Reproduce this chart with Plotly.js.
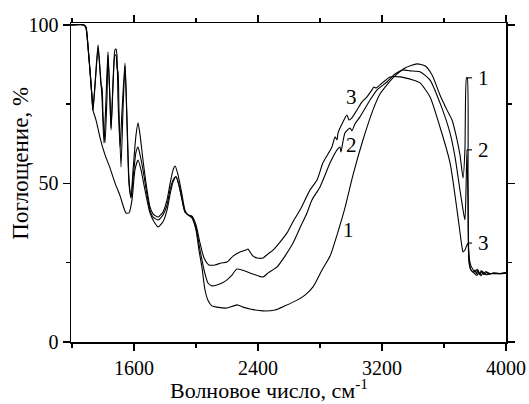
<!DOCTYPE html>
<html>
<head>
<meta charset="utf-8">
<script src="https://cdn.plot.ly/plotly-3.0.1.min.js"></script>
<style>html,body{margin:0;padding:0;background:#fff;}#chart{width:529px;height:404px;}</style>
</head>
<body>
<div id="chart"></div>
<script>
// Wavenumber (cm^-1) and absorption (%) for spectra 1, 2, 3
const wn1 = [1194,1277,1290,1303,1316,1329,1335,1355,1381,1413,1445,1477,1510,1548,1568,1587,1606,1626,1645,1671,1703,1729,1755,1787,1813,1832,1852,1871,1890,1910,1929,1948,1974,2000,2019,2039,2058,2077,2103,2135,2200,2265,2303,2348,2432,2510,2574,2652,2703,2755,2813,2865,2910,2961,3013,3077,3142,3187,3232,3284,3348,3426,3477,3523,3574,3619,3652,3677,3703,3723,3735,3745,3750,3755,3761,3774,3800,3812,3825,3838,3850,3870,3900,3940,4000];
const ab1 = [100,100,99.1,93.1,85.8,77.3,73.2,70.0,64.4,59.0,54.9,50.2,46.1,40.7,40.7,44.8,54.3,57.4,54.3,47.9,40.7,37.9,36.3,37.9,41.6,46.4,50.5,52.1,49.5,44.8,41.0,40.1,39.1,35.3,29.0,23.3,16.4,13.2,11.4,11.0,10.7,11.7,11.0,10.4,9.8,10.1,11.4,13.2,14.8,17.4,22.7,27.1,33.8,42.3,52.7,63.7,73.2,78.2,81.1,83.9,86.4,87.7,87.1,84.2,77.9,73.2,70.0,65.3,59.0,51.7,60.6,83.3,83.3,51.1,25.2,22.7,21.5,21.0,22.0,20.9,21.8,21.2,21.6,21.5,21.8];

const wn2 = [1194,1277,1290,1303,1316,1329,1335,1348,1368,1381,1387,1394,1400,1413,1426,1432,1445,1452,1465,1477,1484,1490,1497,1503,1516,1529,1542,1555,1568,1581,1594,1613,1626,1639,1658,1684,1703,1723,1755,1787,1813,1832,1852,1871,1890,1910,1929,1948,1974,2000,2026,2052,2077,2103,2135,2168,2200,2232,2265,2432,2465,2523,2574,2626,2671,2716,2748,2800,2865,2910,2929,2935,2961,2994,3006,3026,3058,3123,3168,3232,3284,3335,3381,3445,3510,3574,3639,3671,3703,3723,3735,3742,3748,3755,3761,3774,3800,3815,3828,3840,3855,3870,3890,3920,3960,4000];
const ab2 = [100,100,99.1,93.1,85.2,77.0,73.2,80.4,92.7,85.2,81.1,80.1,71.6,62.8,77.9,90.5,76.3,66.9,81.1,90.5,90.5,86.4,85.2,73.2,55.2,73.2,87.1,68.5,49.5,45.4,51.7,59.9,61.5,59.0,54.3,46.4,41.6,39.4,38.5,40.1,43.2,47.9,51.1,52.1,49.5,44.8,41.0,40.1,39.4,36.0,29.0,22.7,18.6,17.7,18.0,18.6,19.6,21.1,23.0,20.5,21.8,23.7,27.1,31.2,36.0,40.7,44.8,48.9,56.5,60.6,61.5,59.9,65.9,67.5,66.6,68.8,71.0,76.3,79.5,82.0,84.5,85.8,85.5,85.2,82.6,75.4,65.9,58.4,47.9,41.6,38.5,47.9,60.6,44.8,27.4,24.0,22.1,22.9,21.2,22.5,21.3,22.2,21.4,21.8,21.5,21.8];

const wn3 = [1194,1277,1290,1303,1316,1329,1335,1348,1368,1381,1387,1394,1406,1419,1432,1445,1452,1465,1477,1484,1490,1497,1510,1523,1542,1555,1568,1581,1594,1613,1626,1639,1658,1684,1703,1723,1755,1787,1813,1832,1852,1865,1884,1910,1929,1948,1974,2000,2026,2052,2084,2123,2161,2200,2239,2284,2323,2335,2348,2368,2394,2432,2465,2497,2542,2587,2632,2671,2735,2781,2819,2877,2897,2910,2916,2948,2974,2987,3006,3039,3071,3103,3135,3148,3161,3187,3252,3316,3348,3400,3445,3510,3574,3639,3684,3716,3723,3735,3748,3755,3761,3768,3774,3790,3800,3810,3820,3832,3845,3865,3880,3897,3929,3961,4000];
const ab3 = [100,100,99.4,93.7,85.8,77.3,73.2,81.1,93.7,85.8,82.0,76.3,62.8,76.3,91.5,76.3,67.5,82.6,92.1,92.4,90.5,76.3,61.5,73.2,88.0,70.0,51.1,45.7,54.3,65.3,69.1,65.3,57.4,47.9,42.6,40.4,39.4,41.0,44.8,49.8,54.3,55.5,52.7,46.4,41.6,40.1,39.7,36.9,31.2,26.5,24.3,24.3,24.9,25.2,27.1,28.4,29.0,29.3,28.4,27.1,26.5,26.5,27.8,29.0,31.5,34.4,38.5,41.6,47.9,51.1,56.5,61.5,64.7,63.7,65.9,69.4,71.6,70.0,70.7,73.2,75.7,77.3,79.5,80.4,80.1,81.1,83.6,83.6,83.3,82.6,81.7,77.3,67.8,56.5,41.6,30.0,28.4,29.0,30.6,31.2,26.5,23.7,22.7,22.0,22.7,21.5,22.6,21.4,22.3,21.6,22.0,21.5,21.7,21.6,21.8];

const curveNames = ["1", "2", "3"];
// label positions beside the curves (wavenumber, absorption)
const midLabelWn = [2981, 3006, 3006];
const midLabelAb = [35.3, 62.1, 77.3];
const xTitle = "Волновое число, см<sup>-1</sup>";
const yTitle = "Поглощение, %";

const FONT = "Liberation Serif";
const series = [[wn1, ab1], [wn2, ab2], [wn3, ab3]];

const traces = series.map((s, i) => ({
  x: s[0], y: s[1], type: "scatter", mode: "lines",
  line: {color: "#000", width: 1.1, shape: "spline", smoothing: 0.6}, name: curveNames[i], hoverinfo: "skip"
}));

// spike tips near 3750 cm^-1 from data
const tips = series.map(s => {
  let best = null;
  for (let k = 0; k < s[0].length; k++) {
    if (s[0][k] >= 3740 && s[0][k] <= 3760) {
      if (best === null || s[1][k] > best[1]) best = [s[0][k], s[1][k]];
    }
  }
  return best;
});
const leaderEnd = 3781;
const rightLabelWn = 3852;

const shapes = tips.map(t => ({
  type: "line", xref: "x", yref: "y", x0: t[0], x1: leaderEnd, y0: t[1], y1: t[1],
  line: {color: "#000", width: 1.1}
}));

const annotations = [];
tips.forEach((t, i) => annotations.push({
  x: rightLabelWn, y: t[1], xref: "x", yref: "y", text: curveNames[i], showarrow: false,
  font: {family: FONT, size: 21, color: "#000"}, xanchor: "center", yanchor: "middle"
}));
midLabelWn.forEach((w, i) => annotations.push({
  x: w, y: midLabelAb[i], xref: "x", yref: "y", text: curveNames[i], showarrow: false,
  font: {family: FONT, size: 21, color: "#000"}, xanchor: "center", yanchor: "middle"
}));
annotations.push({
  x: 0.455, y: -0.197, xref: "paper", yref: "paper", text: xTitle, showarrow: false,
  font: {family: FONT, size: 22, color: "#000"}, xanchor: "center", yanchor: "bottom"
});
annotations.push({
  x: -0.118, y: 0.561, xref: "paper", yref: "paper", text: yTitle, showarrow: false, textangle: -90,
  font: {family: FONT, size: 23, color: "#000"}, xanchor: "center", yanchor: "middle"
});

function axisBase() {
  return {
    showline: true, linewidth: 1.5, linecolor: "#000", mirror: "allticks",
    ticks: "outside", tickwidth: 1.5, tickcolor: "#000", ticklen: 7,
    showgrid: false, zeroline: false,
    tickfont: {family: FONT, size: 20, color: "#000"}
  };
}

const layout = {
  width: 529, height: 404,
  margin: {l: 71, r: 23, t: 23, b: 62},
  paper_bgcolor: "#fff", plot_bgcolor: "#fff",
  font: {family: FONT, size: 20, color: "#000"},
  showlegend: false,
  xaxis: Object.assign(axisBase(), {
    range: [1193.5, 4000], tick0: 1600, dtick: 800,
    minor: {tick0: 1600, dtick: 400, ticks: "outside", ticklen: 4, tickwidth: 1.5, tickcolor: "#000", showgrid: false}
  }),
  yaxis: Object.assign(axisBase(), {
    range: [0, 100.6], tick0: 0, dtick: 50,
    minor: {tick0: 0, dtick: 25, ticks: "outside", ticklen: 4, tickwidth: 1.5, tickcolor: "#000", showgrid: false}
  }),
  shapes: shapes,
  annotations: annotations
};

Plotly.newPlot("chart", traces, layout, {displayModeBar: false, staticPlot: true});
</script>
</body>
</html>
